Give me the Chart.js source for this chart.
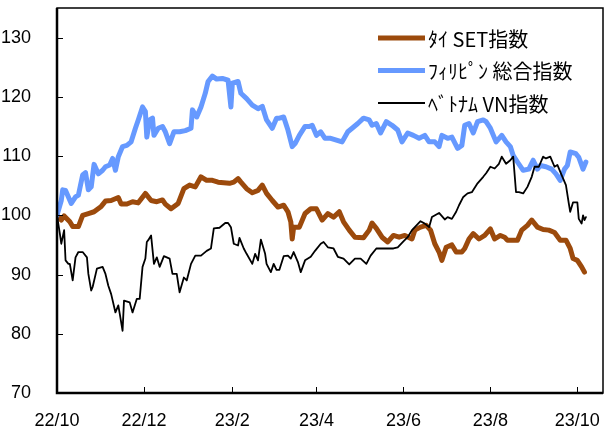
<!DOCTYPE html>
<html>
<head>
<meta charset="utf-8">
<script src="https://cdn.jsdelivr.net/npm/chart.js@4/dist/chart.umd.min.js"></script>
<style>
  body { margin: 0; background: #fff; }
</style>
</head>
<body>
<canvas id="indexChart" width="606" height="428"></canvas>
<script>
// x values are days counted from 2022/10/1
const startDate = '2022-10-01'
const xTickDates = ['2022-10-01', '2022-12-01', '2023-02-01', '2023-04-01', '2023-06-01', '2023-08-01', '2023-10-01']
const xTickLabels = ['22/10', '22/12', '23/2', '23/4', '23/6', '23/8', '23/10']
const yTicks = [70, 80, 90, 100, 110, 120, 130]
const seriesNames = ['ﾀｲ SET指数', 'ﾌｨﾘﾋﾟﾝ 総合指数', 'ﾍﾞﾄﾅﾑ VN指数']

const setDays = [0, 3, 5, 9, 11, 15, 18, 22, 26, 31, 34, 38, 43, 45, 49, 53, 57, 62, 66, 70, 74, 76, 80, 85, 89, 93, 97, 101, 105, 109, 113, 117, 121, 124, 127, 129, 133, 137, 141, 144, 147, 151, 155, 159, 162, 164, 165, 166, 170, 174, 178, 182, 186, 190, 194, 198, 201, 205, 209, 215, 219, 221, 224, 228, 232, 236, 240, 244, 249, 251, 255, 259, 262, 265, 268, 270, 273, 277, 280, 284, 286, 289, 292, 296, 300, 304, 307, 311, 314, 316, 320, 323, 326, 330, 333, 337, 341, 345, 349, 353, 357, 360, 362, 365, 368, 370]
const setVals = [100, 99.2, 99.9, 98.9, 98.1, 98.1, 100, 100.3, 100.6, 101.5, 102.4, 102.5, 103, 101.9, 101.9, 102.3, 102.1, 103.7, 102.5, 102.3, 102.6, 101.9, 101.1, 102, 104.5, 105.1, 104.8, 106.5, 105.9, 105.9, 105.6, 105.5, 105.4, 105.6, 106.2, 105.6, 104.5, 103.8, 104.2, 105.1, 103.7, 102.5, 101.4, 101.7, 100.6, 98.9, 96, 98, 98, 100.3, 101.1, 101.1, 99.2, 100.3, 99.7, 100.6, 98.9, 97.5, 96.3, 96.2, 97.5, 98.7, 97.8, 96.3, 95.5, 96.6, 96.3, 96.6, 96, 97.5, 98, 98.3, 97.5, 95.2, 93.8, 92.4, 94.6, 95, 93.8, 93.8, 94.4, 96, 96.9, 96, 96.6, 97.7, 96, 96.6, 96.3, 95.8, 95.8, 95.8, 97.5, 98.3, 99.2, 98, 97.6, 97.5, 97.1, 95.8, 95.8, 94.4, 92.7, 92.4, 91.3, 90.4]

const phDays = [0, 3, 4, 6, 8, 10, 13, 15, 18, 20, 22, 24, 26, 29, 32, 34, 37, 39, 41, 43, 46, 49, 52, 55, 57, 60, 62, 63, 65, 67, 68, 71, 74, 76, 79, 82, 86, 90, 94, 95, 98, 101, 104, 106, 109, 112, 116, 120, 122, 123, 127, 129, 133, 137, 141, 144, 147, 151, 154, 156, 159, 162, 165, 167, 170, 174, 177, 179, 182, 185, 188, 192, 196, 200, 204, 207, 211, 215, 219, 221, 224, 227, 231, 235, 239, 242, 246, 250, 254, 258, 261, 265, 268, 270, 274, 277, 281, 284, 286, 289, 292, 295, 299, 301, 304, 308, 312, 315, 318, 320, 323, 327, 331, 334, 337, 339, 343, 347, 350, 353, 356, 358, 360, 364, 366, 369, 371]
const phVals = [100, 102.5, 104.3, 104.2, 103.1, 102, 103.1, 103.4, 106.8, 107.2, 104.3, 104.8, 108.6, 107, 107.6, 108.2, 108.5, 109.6, 107.6, 109.9, 111.6, 111.8, 112.4, 114.7, 116.1, 118.3, 117.5, 113.2, 116.1, 116.4, 113.5, 114.7, 115, 114.1, 112.1, 114.1, 114.1, 114.3, 114.7, 117.8, 116.6, 118.3, 120.6, 122.6, 123.5, 123, 123.1, 122.8, 118.3, 122.3, 122.6, 120.6, 119.7, 118.6, 118, 118.4, 116.1, 114.7, 116.4, 116.4, 116.6, 114.4, 111.6, 112.1, 113.5, 115, 115, 115.2, 113.5, 114.1, 113, 113, 112.7, 112.4, 114.1, 114.7, 115.5, 116.4, 116.1, 115.2, 115.5, 113.9, 115.8, 115.2, 114.4, 112.4, 113.9, 113.5, 113, 113.5, 112.4, 112.4, 111.6, 113.5, 113, 113.2, 111.3, 111.8, 115.2, 115.5, 113.9, 115.8, 116.1, 115.8, 114.7, 112.4, 113.5, 112.4, 111.6, 110.1, 109, 107.6, 107.8, 109.3, 107.8, 108.4, 108.2, 107.8, 107, 105.9, 107.8, 108.4, 110.7, 110.4, 109.8, 107.8, 109]

const vnDays = [0, 2, 3, 5, 6, 8, 9, 11, 13, 15, 18, 21, 22, 24, 25, 28, 32, 34, 36, 38, 41, 43, 44, 46, 47, 51, 53, 56, 58, 60, 62, 63, 64, 66, 68, 70, 72, 75, 79, 81, 84, 86, 89, 91, 94, 97, 101, 105, 108, 110, 114, 118, 120, 122, 124, 127, 128, 131, 133, 137, 139, 141, 143, 146, 147, 150, 152, 154, 156, 159, 162, 164, 166, 169, 171, 174, 178, 181, 185, 187, 190, 194, 197, 201, 205, 209, 213, 217, 220, 224, 228, 232, 236, 239, 243, 246, 249, 251, 255, 258, 261, 263, 268, 272, 274, 277, 280, 282, 285, 288, 291, 295, 299, 301, 304, 307, 310, 312, 315, 318, 320, 322, 324, 327, 330, 333, 335, 338, 341, 343, 346, 349, 351, 354, 357, 359, 360, 362, 365, 366, 368, 369, 370, 371]
const vnVals = [100, 96.9, 95.2, 97.5, 92.4, 91.8, 91.8, 89, 92.9, 93.8, 93.8, 92.9, 90.1, 87.3, 87.9, 91, 91.3, 90.1, 88.1, 86.7, 83.6, 84.8, 83.4, 80.5, 85.6, 85.3, 83.6, 85.9, 85.9, 91.3, 92.7, 95.5, 95.8, 96.6, 91.8, 92.9, 91.3, 93.1, 92.7, 90.1, 90.1, 87, 89.5, 89, 91.8, 93.2, 93.2, 94, 94.4, 97.8, 97.9, 98.7, 98.7, 98, 95.2, 94.9, 96.2, 94.4, 93.5, 91.8, 93.5, 92.4, 95.9, 93.5, 91.8, 90.4, 91.8, 90.8, 90.8, 93.1, 93.2, 92.7, 93.8, 92.1, 90.4, 92.4, 93, 94, 95.2, 95.5, 94.6, 94.4, 93, 92.7, 91.7, 92.7, 92.7, 91.8, 93.2, 94.4, 94.4, 94.4, 94.4, 94.6, 95.6, 96.3, 97.5, 98, 99, 98.6, 98, 99.7, 100.4, 99.3, 99.7, 99.4, 100.6, 101.7, 103.1, 103.7, 103.9, 105.4, 106.5, 107.1, 108.2, 107.9, 108.7, 109.9, 108.7, 109.3, 109.9, 103.9, 103.9, 103.7, 104.8, 106.5, 108.2, 108.2, 109.9, 109.6, 109.9, 108.2, 108.5, 106.8, 105.1, 102, 100.6, 102.2, 102.2, 99.4, 98.6, 100, 99.2, 99.7]

function dayOf(dateStr) {
  return Math.round((Date.parse(dateStr) - Date.parse(startDate)) / 86400000)
}
const xTickDays = xTickDates.map(dayOf)

function toPoints(days, vals) {
  return days.map((d, i) => ({ x: d, y: vals[i] }))
}

const frameAndLegend = {
  id: 'frameAndLegend',
  afterDraw(chart) {
    const { ctx, chartArea, scales } = chart
    const { left, right, top, bottom } = chartArea
    ctx.save()
    ctx.strokeStyle = '#000'
    // frame
    ctx.lineWidth = 1.5
    ctx.strokeRect(left, top, right - left, bottom - top)
    ctx.lineWidth = 2.5
    ctx.beginPath()
    ctx.moveTo(left, top)
    ctx.lineTo(left, bottom)
    ctx.lineTo(right, bottom)
    ctx.stroke()
    // inward tick marks
    ctx.lineWidth = 1
    ctx.beginPath()
    yTicks.forEach(v => {
      const py = Math.round(scales.y.getPixelForValue(v)) + 0.5
      ctx.moveTo(left, py)
      ctx.lineTo(left + 6, py)
    })
    xTickDays.forEach(d => {
      const px = Math.round(scales.x.getPixelForValue(d)) + 0.5
      ctx.moveTo(px, bottom)
      ctx.lineTo(px, bottom - 6)
    })
    ctx.stroke()
    // legend
    ctx.font = '20px "Noto Sans CJK JP", sans-serif'
    ctx.textBaseline = 'middle'
    ctx.fillStyle = '#000'
    chart.data.datasets.forEach((ds, i) => {
      const ly = 38 + i * 32.5
      ctx.strokeStyle = ds.borderColor
      ctx.lineWidth = ds.borderWidth
      ctx.beginPath()
      ctx.moveTo(378, ly)
      ctx.lineTo(425, ly)
      ctx.stroke()
      ctx.fillText(ds.label, 428, ly + 1)
    })
    ctx.restore()
  }
}

Chart.defaults.font.family = '"Liberation Sans", Arial, sans-serif'
Chart.defaults.font.size = 18
Chart.defaults.color = '#000'

const chart = new Chart(document.getElementById('indexChart'), {
  type: 'line',
  data: {
    datasets: [
      {
        label: seriesNames[0],
        data: toPoints(setDays, setVals),
        borderColor: '#9c4a0c',
        borderWidth: 5,
        order: 3
      },
      {
        label: seriesNames[1],
        data: toPoints(phDays, phVals),
        borderColor: '#6699ff',
        borderWidth: 5,
        order: 2
      },
      {
        label: seriesNames[2],
        data: toPoints(vnDays, vnVals),
        borderColor: '#000000',
        borderWidth: 1.8,
        order: 1
      }
    ]
  },
  options: {
    responsive: false,
    animation: false,
    elements: {
      point: { radius: 0 },
      line: { tension: 0, borderJoinStyle: 'round', borderCapStyle: 'round' }
    },
    layout: { padding: { top: 8, right: 3, left: 0, bottom: 0 } },
    plugins: {
      legend: { display: false },
      tooltip: { enabled: false }
    },
    scales: {
      x: {
        type: 'linear',
        min: 0,
        max: 383,
        grid: { display: false },
        border: { display: false },
        afterBuildTicks: scale => {
          scale.ticks = xTickDays.map(d => ({ value: d }))
        },
        afterFit: scale => {
          scale.height = 35
          scale.paddingLeft = 0
          scale.paddingRight = 0
        },
        ticks: {
          autoSkip: false,
          maxRotation: 0,
          padding: 9,
          callback: (value) => xTickLabels[xTickDays.indexOf(value)]
        }
      },
      y: {
        min: 70,
        max: 135,
        grid: { display: false },
        border: { display: false },
        afterBuildTicks: scale => {
          scale.ticks = yTicks.map(v => ({ value: v }))
        },
        afterFit: scale => {
          scale.width = 57
          scale.paddingTop = 0
          scale.paddingBottom = 0
        },
        ticks: { padding: 18 }
      }
    }
  },
  plugins: [frameAndLegend]
})
</script>
</body>
</html>
